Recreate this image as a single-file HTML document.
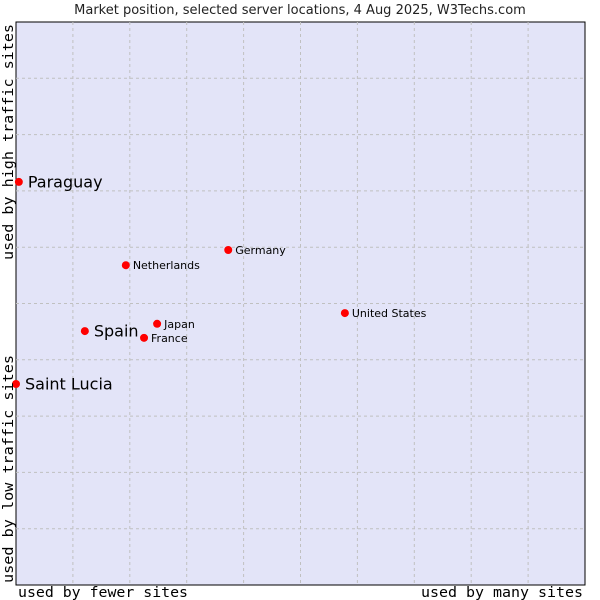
<!DOCTYPE html>
<html><head><meta charset="utf-8"><style>
body{margin:0;background:#fff;width:600px;height:600px;overflow:hidden}
svg{display:block}
</style></head><body>
<svg id="chart" width="600" height="600">
<text x="300" y="14" text-anchor="middle" font-family="DejaVu Sans, sans-serif" font-size="13" fill="#222">Market position, selected server locations, 4 Aug 2025, W3Techs.com</text>
<rect x="16" y="22" width="569" height="563" fill="#e3e4f8" stroke="#000" stroke-width="1"/>
<g id="grid"></g>
<g id="points"></g>
<text x="18" y="597" textLength="170" lengthAdjust="spacingAndGlyphs" font-family="DejaVu Sans Mono, monospace" font-size="14" fill="#000">used by fewer sites</text>
<text x="421" y="597" textLength="162" lengthAdjust="spacingAndGlyphs" font-family="DejaVu Sans Mono, monospace" font-size="14" fill="#000">used by many sites</text>
<text transform="translate(13,583) rotate(-90)" textLength="228" lengthAdjust="spacingAndGlyphs" font-family="DejaVu Sans Mono, monospace" font-size="14" fill="#000">used by low traffic sites</text>
<text transform="translate(13,260) rotate(-90)" textLength="236" lengthAdjust="spacingAndGlyphs" font-family="DejaVu Sans Mono, monospace" font-size="14" fill="#000">used by high traffic sites</text>
</svg>
<script>
const names=["Paraguay","Saint Lucia","Spain","Netherlands","Germany","Japan","France","United States"];
const xVals=[0.5,0,12.1,19.3,37.3,24.8,22.5,57.8];
const yVals=[71.6,35.7,45.1,56.8,59.5,46.4,43.9,48.3];
const bigLabel=[true,true,true,false,false,false,false,false];
const L=16,R=585,T=22,B=585;
const sx=v=>L+v/100*(R-L);
const sy=v=>B-v/100*(B-T);
const NS="http://www.w3.org/2000/svg";
const grid=document.getElementById('grid');
for(let i=1;i<10;i++){
  const v=document.createElementNS(NS,'line');
  v.setAttribute('x1',sx(i*10));v.setAttribute('x2',sx(i*10));v.setAttribute('y1',T);v.setAttribute('y2',B);
  v.setAttribute('stroke','#c0c0c0');v.setAttribute('stroke-dasharray','3,3');
  
  
  grid.appendChild(v);
  const h=document.createElementNS(NS,'line');
  h.setAttribute('x1',L);h.setAttribute('x2',R);h.setAttribute('y1',sy(i*10));h.setAttribute('y2',sy(i*10));
  h.setAttribute('stroke','#c0c0c0');h.setAttribute('stroke-dasharray','3,3');
  
  
  grid.appendChild(h);
}
const pts=document.getElementById('points');
names.forEach((n,i)=>{
  const x=sx(xVals[i]),y=sy(yVals[i]);
  const c=document.createElementNS(NS,'circle');
  c.setAttribute('cx',x);c.setAttribute('cy',y);c.setAttribute('r',4);
  c.setAttribute('fill','#f00');
  
  
  pts.appendChild(c);
  const t=document.createElementNS(NS,'text');
  const big=bigLabel[i];
  t.setAttribute('x',x+(big?9:7));t.setAttribute('y',y+(big?5.5:4));
  t.setAttribute('font-family','DejaVu Sans, sans-serif');
  t.setAttribute('font-size',big?16:11);
  t.setAttribute('fill','#000');
  t.textContent=n;
  
  
  pts.appendChild(t);
});
</script>
</body></html>
